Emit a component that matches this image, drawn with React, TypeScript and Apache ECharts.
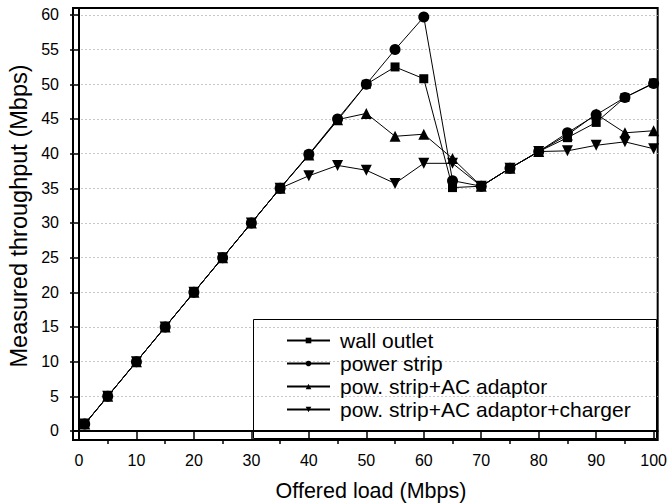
import React, { useEffect, useRef } from "react";
import * as echarts from "echarts";

const xValues = [1, 5, 10, 15, 20, 25, 30, 35, 40, 45, 50, 55, 60, 65, 70, 75, 80, 85, 90, 95, 100];
const wallOutlet = [1, 5, 10, 15, 20, 25, 30, 35, 39.8, 44.8, 50, 52.5, 50.8, 35.1, 35.3, 37.9, 40.3, 42.3, 44.5, 48.1, 50.2];
const powerStrip = [1, 5, 10, 15, 20, 25, 30, 35, 39.9, 45, 50, 55, 59.7, 36.1, 35.3, 37.9, 40.3, 43, 45.6, 48.1, 50.1];
const acAdaptor = [1, 5, 10, 15, 20, 25, 30, 35, 39.8, 44.9, 45.8, 42.5, 42.8, 39.3, 35.3, 37.9, 40.3, 42.7, 45.7, 43, 43.3];
const charger = [1, 5, 10, 15, 20, 25, 30, 35, 36.8, 38.3, 37.6, 35.7, 38.6, 38.6, 35.3, 37.9, 40.3, 40.4, 41.2, 41.7, 40.7];
const seriesNames = ["wall outlet", "power strip", "pow. strip+AC adaptor", "pow. strip+AC adaptor+charger"];
const xMajorTicks = [0, 10, 20, 30, 40, 50, 60, 70, 80, 90, 100];
const xMinorTicks = [5, 15, 25, 35, 45, 55, 65, 75, 85, 95];
const yTicks = [0, 5, 10, 15, 20, 25, 30, 35, 40, 45, 50, 55, 60];
const xTitle = "Offered load (Mbps)";
const yTitle = "Measured throughput (Mbps)";

const FONT = "Liberation Sans, Arial, sans-serif";

export default function App() {
  const ref = useRef<HTMLDivElement>(null);
  useEffect(() => {
    if (!ref.current) return;
    const chart = echarts.init(ref.current, null, { renderer: "svg" });
    const pair = (arr: number[]) => xValues.map((x, i) => [x, arr[i]]);
    const mk = (name: string, data: number[], symbol: string, size: number, rotate = 0) => ({
      name,
      type: "line",
      data: pair(data),
      symbol,
      symbolSize: size,
      symbolRotate: rotate,
      xAxisIndex: 0,
      lineStyle: { color: "#000", width: 1 },
      itemStyle: { color: "#000", borderWidth: 0 },
      emphasis: { disabled: true },
    });
    chart.setOption({
      animation: false,
      backgroundColor: "#fff",
      textStyle: { fontFamily: FONT },
      grid: {
        left: 73,
        right: 10,
        top: 8,
        bottom: 63,
        show: true,
        borderColor: "#000",
        borderWidth: 2,
      },
      legend: {
        orient: "vertical",
        left: 286,
        top: 329,
        padding: 0,
        itemWidth: 43,
        itemHeight: 7,
        itemGap: 0,
        data: seriesNames,
        textStyle: { fontFamily: FONT, fontSize: 21, lineHeight: 23, color: "#000", padding: [0, 0, 0, 5] },
        inactiveColor: "#000",
        selectedMode: false,
      },
      graphic: [
        {
          type: "rect",
          shape: { x: 253.5, y: 319.5, width: 403, height: 119 },
          style: { fill: "none", stroke: "#000", lineWidth: 1 },
          z: 10,
        },
        {
          type: "text",
          x: 371,
          y: 491,
          style: { text: xTitle, font: `21.5px ${FONT}`, fill: "#000", align: "center", verticalAlign: "middle" },
        },
        {
          type: "text",
          x: 19,
          y: 216,
          rotation: Math.PI / 2,
          style: { text: yTitle, font: `23.5px ${FONT}`, fill: "#000", align: "center", verticalAlign: "middle" },
        },
      ],
      xAxis: [
        {
          type: "value",
          min: -1.04,
          max: 100.7,
          axisLine: { show: true, lineStyle: { color: "#000", width: 2 } },
          axisTick: { show: true, customValues: xMajorTicks, length: 8, inside: false, lineStyle: { color: "#000", width: 1.5 } },
          axisLabel: { customValues: xMajorTicks, fontFamily: FONT, fontSize: 16, color: "#000", margin: 12 },
          splitLine: { show: false },
        },
        {
          type: "value",
          min: -1.04,
          max: 100.7,
          position: "bottom",
          axisLine: { show: false },
          axisTick: { show: true, customValues: xMinorTicks, length: 4, lineStyle: { color: "#000", width: 1.5 } },
          axisLabel: { show: false },
          splitLine: { show: false },
        },
      ],
      yAxis: {
        type: "value",
        min: -1.3,
        max: 61,
        axisLine: { show: true, lineStyle: { color: "#000", width: 2 } },
        axisTick: { show: true, customValues: yTicks, length: 9, lineStyle: { color: "#000", width: 1.5 } },
        axisLabel: { customValues: yTicks, fontFamily: FONT, fontSize: 16, color: "#000", margin: 14 },
        splitLine: { show: true, lineStyle: { color: "#c8c8c8", width: 1, type: [2, 2] } },
      },
      series: [
        mk(seriesNames[0], wallOutlet, "rect", 9),
        mk(seriesNames[1], powerStrip, "circle", 11),
        mk(seriesNames[2], acAdaptor, "triangle", 11),
        mk(seriesNames[3], charger, "triangle", 11, 180),
      ],
    });
    return () => chart.dispose();
  }, []);
  return <div ref={ref} style={{ position: "fixed", left: 0, top: 0, width: 670, height: 503 }} />;
}
